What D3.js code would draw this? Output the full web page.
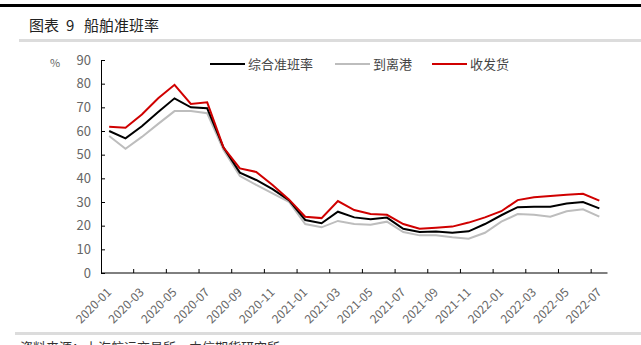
<!DOCTYPE html>
<html>
<head>
<meta charset="utf-8">
<script src="https://cdn.jsdelivr.net/npm/d3@7"></script>
<style>
  html, body { margin: 0; padding: 0; background: #fff; }
  svg { display: block; font-family: "Noto Sans CJK SC", "Noto Sans", sans-serif; }
</style>
</head>
<body>
<svg id="chart" width="641" height="345"></svg>
<script>
// Monthly categories 2020-01 .. 2022-07
const months = [
  "2020-01","2020-02","2020-03","2020-04","2020-05","2020-06","2020-07","2020-08",
  "2020-09","2020-10","2020-11","2020-12","2021-01","2021-02","2021-03","2021-04",
  "2021-05","2021-06","2021-07","2021-08","2021-09","2021-10","2021-11","2021-12",
  "2022-01","2022-02","2022-03","2022-04","2022-05","2022-06","2022-07"
];

// 综合准班率 (%)
const overall = [
  60.0, 56.9, 62.0, 68.0, 73.8, 70.0, 69.6, 53.0,
  42.4, 39.3, 35.4, 30.8, 22.4, 21.0, 25.9, 23.5,
  22.7, 23.4, 18.7, 17.3, 17.5, 17.0, 17.6, 20.7,
  24.4, 27.8, 28.0, 28.0, 29.4, 30.0, 27.3
];

// 到离港 (%)
const portCall = [
  57.9, 52.5, 57.5, 63.0, 68.4, 68.4, 67.5, 52.0,
  41.0, 37.2, 33.6, 30.1, 20.7, 19.3, 22.0, 20.7,
  20.4, 21.7, 17.3, 15.9, 15.9, 15.1, 14.5, 17.0,
  21.7, 24.9, 24.6, 23.8, 26.1, 26.9, 23.8
];

// 收发货 (%)
const cargo = [
  61.8, 61.4, 67.0, 73.8, 79.5, 71.4, 72.1, 53.0,
  44.2, 42.7, 37.2, 31.1, 23.8, 23.2, 30.4, 26.6,
  24.9, 24.6, 20.7, 18.7, 19.1, 19.6, 21.3, 23.5,
  26.1, 30.8, 32.0, 32.5, 33.1, 33.5, 30.6
];

const yTicks = [0, 10, 20, 30, 40, 50, 60, 70, 80, 90];

const seriesNames = ["综合准班率", "到离港", "收发货"];
const seriesColors = ["#000000", "#bdbdbd", "#d00000"];

const svg = d3.select("#chart");

// Page frame: heavy top rule, title, light rules
svg.append("rect").attr("x", 0).attr("y", 4).attr("width", 641).attr("height", 3).attr("fill", "#000");
const title = svg.append("text").attr("y", 31)
  .attr("font-size", 15).attr("fill", "#222");
title.append("tspan").attr("x", 29).text("图表");
title.append("tspan").attr("x", 66).text("9");
title.append("tspan").attr("x", 84).text("船舶准班率");
svg.append("rect").attr("x", 19).attr("y", 39).attr("width", 622).attr("height", 3).attr("fill", "#dcdcdc");
svg.append("rect").attr("x", 15).attr("y", 332).attr("width", 626).attr("height", 3).attr("fill", "#dcdcdc");
svg.append("text").attr("x", 20).attr("y", 352)
  .attr("font-size", 13).attr("fill", "#333")
  .text("资料来源：上海航运交易所，中信期货研究所");

// Scales
const x = d3.scaleBand().domain(months).range([101, 607.5]).padding(0);
const y = d3.scaleLinear().domain([0, 90]).range([273, 60]);
const xc = d => x(d) + x.bandwidth() / 2;

// Y axis with inward ticks
const yAxis = svg.append("g")
  .attr("transform", "translate(101,0)")
  .call(d3.axisLeft(y).tickValues(yTicks).tickSize(-4).tickSizeOuter(0).tickPadding(10));
yAxis.select(".domain").attr("stroke", "#000");
yAxis.selectAll(".tick line").attr("stroke", "#000");
yAxis.selectAll(".tick text")
  .attr("font-size", 13).attr("fill", "#666")
  .attr("font-family", "'Noto Sans CJK SC', 'Noto Sans', sans-serif");

svg.append("text").attr("x", 55).attr("y", 67)
  .attr("font-size", 11).attr("fill", "#666").attr("text-anchor", "middle")
  .text("%");

// X axis: baseline, inward ticks every two months at band edges
const xAxis = svg.append("g");
xAxis.append("line")
  .attr("x1", x.range()[0]).attr("x2", x.range()[1])
  .attr("y1", y(0)).attr("y2", y(0))
  .attr("stroke", "#000");
const labelled = months.filter((m, i) => i % 2 === 0);
xAxis.selectAll("line.tick").data(labelled.slice(1)).join("line")
  .attr("class", "tick")
  .attr("x1", d => x(d)).attr("x2", d => x(d))
  .attr("y1", y(0)).attr("y2", y(0) - 4)
  .attr("stroke", "#000");
xAxis.selectAll("text").data(labelled).join("text")
  .attr("transform", d => `translate(${xc(d)},${y(0) + 17}) rotate(-45)`)
  .attr("text-anchor", "end")
  .attr("dy", "0.35em")
  .attr("font-size", 12).attr("fill", "#666")
  .text(d => d);

// Lines
const line = d3.line()
  .x((d, i) => xc(months[i]))
  .y(d => y(d));

const allSeries = [overall, portCall, cargo];
const drawOrder = [1, 0, 2];
drawOrder.forEach(k => {
  svg.append("path")
    .datum(allSeries[k])
    .attr("fill", "none")
    .attr("stroke", seriesColors[k])
    .attr("stroke-width", 2)
    .attr("stroke-linejoin", "miter")
    .attr("d", line);
});

// Legend
const legendX = [210, 335, 432];
const legend = svg.append("g");
seriesNames.forEach((name, k) => {
  legend.append("line")
    .attr("x1", legendX[k]).attr("x2", legendX[k] + 35)
    .attr("y1", 64).attr("y2", 64)
    .attr("stroke", seriesColors[k]).attr("stroke-width", 2);
  legend.append("text")
    .attr("x", legendX[k] + 38).attr("y", 64)
    .attr("dy", "0.35em")
    .attr("font-size", 13).attr("fill", "#444")
    .text(name);
});
</script>
</body>
</html>
